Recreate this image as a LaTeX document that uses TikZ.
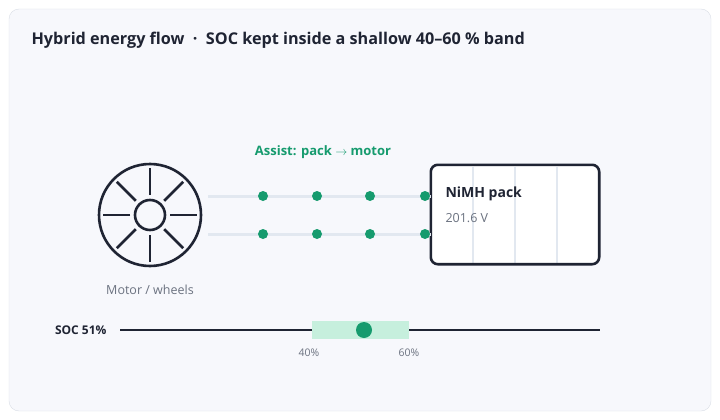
\documentclass[tikz,border=0pt]{standalone}
\usepackage{fontspec}
\setmainfont{Open Sans}
\usetikzlibrary{positioning}
\definecolor{ink}{HTML}{1F2433}
\definecolor{muted}{HTML}{6B7280}
\definecolor{flow}{HTML}{169B6E}
\definecolor{track}{HTML}{E2E8F0}
\definecolor{band}{HTML}{C6EFDD}
\definecolor{card}{HTML}{F7F8FC}
\definecolor{edge}{HTML}{D9DEE6}
\begin{document}
\begin{tikzpicture}[x=1pt,y=-1pt,
	dot/.style={circle,fill=flow,inner sep=0pt,minimum size=10pt},
	wire/.style={track,line width=3pt},
	small/.style={font=\fontsize{10.5}{13}\selectfont,text=muted}]
	% Card
	\useasboundingbox (0,0) rectangle (720,420);
	\draw[edge,fill=card,rounded corners=10pt] (9,9) rectangle (711,411);
	\node[anchor=west,text=ink,font=\bfseries\fontsize{16.2}{19}\selectfont] (title) at (28,40) {Hybrid energy flow \ · \ SOC kept inside a shallow 40–60 \% band};
	
	% Wheel
	\node[circle,draw=ink,line width=2.6pt,minimum size=102pt,inner sep=0pt] (wheel) at (150,215) {};
	\node[circle,draw=ink,line width=2.6pt,minimum size=30pt,inner sep=0pt] (hub) at (150,215) {};
	\foreach \a in {0,45,...,315}
		\draw[ink,line width=2.8pt] (wheel.center) ++(\a:20pt) -- ++(\a:27pt);
	\node[small,font=\fontsize{12.5}{15}\selectfont,below=14pt of wheel] (wlabel) {Motor / wheels};
	
	% Pack
	\node[fill=white,rounded corners=7pt,minimum width=168pt,minimum height=99pt,inner sep=0pt] (pack) at (515,214.5) {};
	\foreach \x in {473,515,557}
		\draw[track,line width=1.8pt] (\x,166.5) -- (\x,262.5);
	\draw[ink,line width=2.6pt,rounded corners=7pt] (pack.north west) rectangle (pack.south east);
	\node[anchor=west,text=ink,font=\bfseries\fontsize{14}{16}\selectfont] (pname) at (442,194) {NiMH pack};
	\node[anchor=west,text=muted,font=\fontsize{12.5}{15}\selectfont] (pvolt) at (442,218) {201.6 V};
	
	% Flow
	\coordinate (t1) at (208,196);
	\coordinate (t2) at (208,234);
	\draw[wire] (t1) -- (t1 -| pack.west);
	\draw[wire] (t2) -- (t2 -| pack.west);
	\foreach \x in {263,317,370,425} {
		\node[dot] at (\x,196) {};
		\node[dot] at (\x,234) {};
	}
	\node[text=flow,font=\bfseries\fontsize{13}{15}\selectfont] (assist) at (323,152) {Assist: pack $\rightarrow$ motor};
	
	% SOC bar
	\coordinate (s0) at (120,330);
	\coordinate (s1) at (600,330);
	\fill[band] (312,321) rectangle (409,339);
	\draw[ink,line width=2.6pt] (s0) -- (312,330);
	\draw[ink,line width=2.6pt] (409,330) -- (s1);
	\node[dot,minimum size=16pt] (soc) at (364,330) {};
	\node[anchor=east,text=ink,font=\bfseries\fontsize{12}{14}\selectfont] (soclabel) at (110,330) {SOC 51\%};
	\node[small] (lo) at (309,353) {40\%};
	\node[small] (hi) at (409,353) {60\%};
\end{tikzpicture}
\end{document}
